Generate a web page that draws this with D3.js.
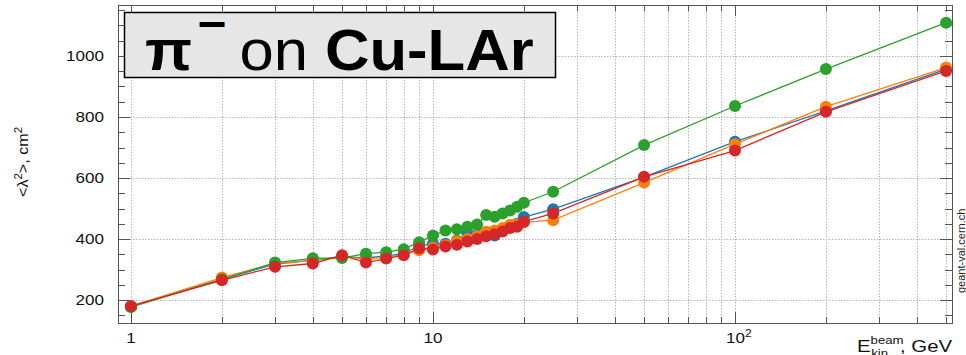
<!DOCTYPE html>
<html>
<head>
<meta charset="utf-8">
<script src="https://cdn.jsdelivr.net/npm/d3@7"></script>
<style>
  html, body { margin: 0; padding: 0; background: #fff; }
  svg { display: block; font-family: "Liberation Sans", Arial, sans-serif; }
</style>
</head>
<body>
<svg id="chart" width="966" height="355"></svg>
<script>
// Beam kinetic energies, GeV
const energies = [1, 2, 3, 4, 5, 6, 7, 8, 9, 10, 11, 12, 13, 14, 15, 16, 17, 18, 19, 20, 25, 50, 100, 200, 500];

// <λ²> in cm² for each physics configuration
const seriesBlue   = [180, 268, 318, 330, 342, 338, 345, 352, 378, 385, 385, 395, 418, 415, 422, 412, 430, 445, 450, 472, 498, 603, 719, 820, 957];
const seriesOrange = [180, 274, 320, 330, 342, 335, 340, 350, 363, 372, 380, 393, 400, 410, 424, 428, 436, 446, 448, 455, 462, 585, 711, 834, 962];
const seriesGreen  = [177, 268, 323, 337, 338, 352, 357, 367, 390, 412, 428, 432, 440, 448, 479, 473, 484, 494, 506, 519, 555, 708, 836, 957, 1109];
const seriesRed    = [180, 265, 309, 320, 347, 323, 336, 347, 370, 366, 376, 381, 392, 400, 409, 416, 425, 436, 440, 457, 484, 604, 690, 817, 951];

const seriesList = [
  { values: seriesBlue,   color: "#1f77b4" },
  { values: seriesOrange, color: "#ff7f0e" },
  { values: seriesGreen,  color: "#2ca02c" },
  { values: seriesRed,    color: "#d62728" }
];

// Axis tick labels
const xMajorTicks = [1, 10, 100];
const xMinorTicks = [2, 3, 4, 5, 6, 7, 8, 9, 20, 30, 40, 50, 60, 70, 80, 90, 200, 300, 400, 500];
const yMajorTicks = [200, 400, 600, 800, 1000];
const yMinorTicks = [150, 250, 300, 350, 450, 500, 550, 650, 700, 750, 850, 900, 950, 1050, 1100, 1150];

const svg = d3.select("#chart");
const L = 118, R = 952, T = 5, B = 323;

const x = d3.scaleLog().domain([0.906, 523]).range([L, R]);
const y = d3.scaleLinear().domain([125, 1167]).range([B, T]);

// dotted grid
const grid = svg.append("g").attr("stroke", "#b4b4b4").attr("stroke-width", 1)
  .attr("stroke-dasharray", "1.5,1.5");
grid.selectAll("line.gx").data(xMajorTicks.concat(xMinorTicks)).join("line")
  .attr("x1", d => Math.round(x(d)) + 0.5).attr("x2", d => Math.round(x(d)) + 0.5)
  .attr("y1", T).attr("y2", B);
grid.selectAll("line.gy").data(yMajorTicks).join("line")
  .attr("y1", d => Math.round(y(d)) + 0.5).attr("y2", d => Math.round(y(d)) + 0.5)
  .attr("x1", L).attr("x2", R);

// inward ticks on all four sides
const ticks = svg.append("g").attr("stroke", "#555").attr("stroke-width", 1);
function xTicks(vals, len) {
  vals.forEach(v => {
    const px = Math.round(x(v)) + 0.5;
    ticks.append("line").attr("x1", px).attr("x2", px).attr("y1", B).attr("y2", B - len);
    ticks.append("line").attr("x1", px).attr("x2", px).attr("y1", T).attr("y2", T + len);
  });
}
function yTicks(vals, len) {
  vals.forEach(v => {
    const py = Math.round(y(v)) + 0.5;
    ticks.append("line").attr("y1", py).attr("y2", py).attr("x1", L).attr("x2", L + len);
    ticks.append("line").attr("y1", py).attr("y2", py).attr("x1", R).attr("x2", R - len);
  });
}
xTicks(xMajorTicks, 11);
xTicks(xMinorTicks, 6);
yTicks(yMajorTicks, 12);
yTicks(yMinorTicks, 7);

// frame
svg.append("rect").attr("x", L + 0.5).attr("y", T + 0.5)
  .attr("width", R - L).attr("height", B - T)
  .attr("fill", "none").attr("stroke", "#555").attr("stroke-width", 1);

// tick labels (wide sans face)
const stretch = 1.22;
svg.append("g").selectAll("text").data(yMajorTicks).join("text")
  .attr("transform", d => `translate(104,${y(d) + 5}) scale(${stretch},1)`)
  .attr("text-anchor", "end").attr("font-size", 14).attr("fill", "#111")
  .text(d => d);

const xl = svg.append("g").attr("font-size", 14).attr("fill", "#111");
xl.append("text").attr("transform", `translate(${x(1)},343) scale(${stretch},1)`)
  .attr("text-anchor", "middle").text("1");
xl.append("text").attr("transform", `translate(${x(10)},343) scale(${stretch},1)`)
  .attr("text-anchor", "middle").text("10");
const t100 = xl.append("text").attr("transform", `translate(${x(100) + 4},343) scale(${stretch},1)`)
  .attr("text-anchor", "middle");
t100.append("tspan").text("10");
t100.append("tspan").attr("font-size", 10).attr("dy", -6).text("2");

// axis titles
const xt = svg.append("text").attr("transform", `translate(857,352) scale(1.2,1)`)
  .attr("font-size", 17).attr("fill", "#111");
xt.append("tspan").text("E");
xt.append("tspan").attr("font-size", 11).attr("dy", -8).text("beam");
xt.append("tspan").attr("font-size", 11).attr("dx", -27).attr("dy", 13).text("kin");
xt.append("tspan").attr("dy", -5).attr("dx", 10).text(", GeV");

const yt = svg.append("text").attr("transform", "translate(28,197) rotate(-90) scale(1.15,1)")
  .attr("font-size", 14).attr("fill", "#111");
yt.append("tspan").text("<λ");
yt.append("tspan").attr("font-size", 10).attr("dy", -6).text("2");
yt.append("tspan").attr("dy", 6).text(">, cm");
yt.append("tspan").attr("font-size", 10).attr("dy", -6).text("2");

svg.append("text").attr("transform", "translate(965,293) rotate(-90)")
  .attr("font-size", 11).attr("fill", "#222").text("geant-val.cern.ch");

// series lines and markers
const line = d3.line().x((d, i) => x(energies[i])).y(d => y(d));
const plot = svg.append("g");
seriesList.forEach(s => {
  plot.append("path").datum(s.values).attr("d", line)
    .attr("fill", "none").attr("stroke", s.color).attr("stroke-width", 1.3);
  plot.append("g").selectAll("circle").data(s.values).join("circle")
    .attr("cx", (d, i) => x(energies[i])).attr("cy", d => y(d))
    .attr("r", 6).attr("fill", s.color);
});

// label box: π⁻ on Cu-LAr
svg.append("rect").attr("x", 124.5).attr("y", 12.5).attr("width", 431).attr("height", 65)
  .attr("fill", "#e6e6e6").attr("stroke", "#000").attr("stroke-width", 1.5);
const lab = svg.append("text").attr("transform", "translate(145,70) scale(1.08,1)")
  .attr("font-size", 57).attr("fill", "#000");
lab.append("tspan").attr("font-weight", "bold").text("π");
lab.append("tspan").attr("font-weight", "bold").attr("font-size", 46).attr("dx", 5).attr("dy", -30).text("−");
lab.append("tspan").attr("dx", 12).attr("dy", 30).text("on ");
lab.append("tspan").attr("font-weight", "bold").text("Cu-LAr");
</script>
</body>
</html>
